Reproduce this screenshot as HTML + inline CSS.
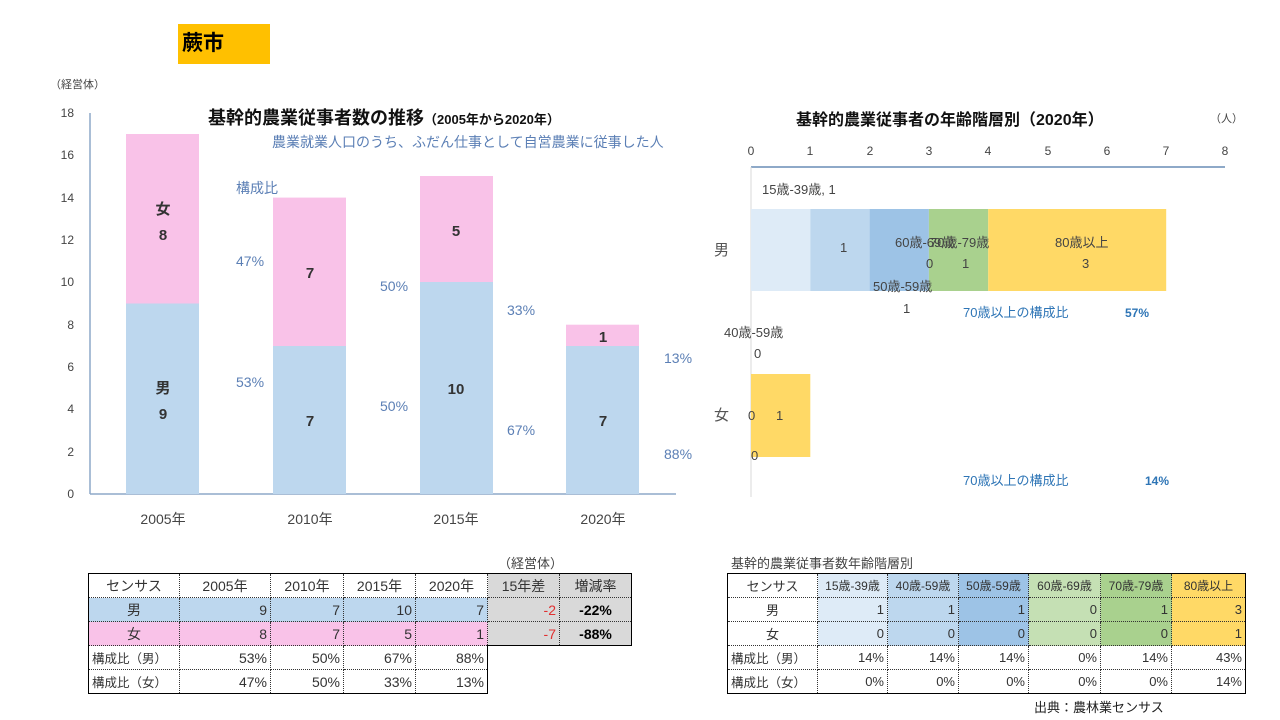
<!DOCTYPE html>
<html><head><meta charset="utf-8"><style>
body{margin:0;width:1280px;height:720px;background:#fff;position:relative;overflow:hidden;font-family:"Liberation Sans","Noto Sans CJK JP",sans-serif;}
.a{position:absolute;white-space:nowrap}
table{position:absolute;border-collapse:collapse;font-size:14px;color:#333;table-layout:fixed}
td{border:1px dotted #333;height:23px;padding:0 3px;text-align:right}
td.c{text-align:center}
td.l{text-align:left;font-size:12.5px}
tr.t td{border-top:1px solid #000;}
</style></head><body>
<div class="a" style="left:178px;top:24px;width:92px;height:40px;background:#ffc000;font-size:21px;font-weight:bold;line-height:40px;padding-left:4px;box-sizing:border-box">蕨市</div>
<div class="a" style="left:50px;top:76px;font-size:11px;color:#444">（経営体）</div>
<div class="a" style="left:208px;top:104px;font-size:18px;font-weight:bold;color:#111">基幹的農業従事者数の推移<span style="font-size:13px">（2005年から2020年）</span></div>
<div class="a" style="left:272px;top:132px;font-size:14px;color:#5b7fb5">農業就業人口のうち、ふだん仕事として自営農業に従事した人</div>
<div class="a" style="left:796px;top:106px;font-size:16px;font-weight:bold;color:#111">基幹的農業従事者の年齢階層別（2020年）</div>
<div class="a" style="left:1210px;top:110px;font-size:11px;color:#444">（人）</div>
<svg class="a" style="left:0;top:0" width="1280" height="720" font-family="Liberation Sans,Noto Sans CJK JP,sans-serif">
<g font-size="12" fill="#444" text-anchor="end">
<text x="74" y="498">0</text><text x="74" y="456">2</text><text x="74" y="413">4</text><text x="74" y="371">6</text><text x="74" y="329">8</text><text x="74" y="286">10</text><text x="74" y="244">12</text><text x="74" y="202">14</text><text x="74" y="159">16</text><text x="74" y="117">18</text>
</g>
<line x1="90" y1="113" x2="90" y2="494" stroke="#8ea9c8" stroke-width="1.5"/>
<line x1="90" y1="494" x2="676" y2="494" stroke="#8ea9c8" stroke-width="1.5"/>
<rect x="126" y="303.5" width="73" height="190.5" fill="#bdd7ee"/><rect x="126" y="134" width="73" height="169.5" fill="#f9c2e8"/>
<rect x="273" y="346" width="73" height="148" fill="#bdd7ee"/><rect x="273" y="197.6" width="73" height="148.4" fill="#f9c2e8"/>
<rect x="420" y="282" width="73" height="212" fill="#bdd7ee"/><rect x="420" y="176" width="73" height="106" fill="#f9c2e8"/>
<rect x="566" y="346" width="73" height="148" fill="#bdd7ee"/><rect x="566" y="324.7" width="73" height="21.3" fill="#f9c2e8"/>
<g font-size="15" font-weight="bold" fill="#333" text-anchor="middle">
<text x="163" y="214">女</text><text x="163" y="240">8</text><text x="163" y="393">男</text><text x="163" y="419">9</text>
<text x="310" y="278">7</text><text x="310" y="426">7</text><text x="456" y="236">5</text><text x="456" y="394">10</text>
<text x="603" y="342">1</text><text x="603" y="426">7</text>
</g>
<g font-size="14" fill="#5b7fb5">
<text x="236" y="193">構成比</text><text x="236" y="266">47%</text><text x="236" y="387">53%</text>
<text x="380" y="291">50%</text><text x="380" y="411">50%</text><text x="507" y="315">33%</text><text x="507" y="435">67%</text>
<text x="664" y="363">13%</text><text x="664" y="459">88%</text>
</g>
<g font-size="14" fill="#444" text-anchor="middle"><text x="163" y="524">2005年</text><text x="310" y="524">2010年</text><text x="456" y="524">2015年</text><text x="603" y="524">2020年</text></g>
<g font-size="12" fill="#444" text-anchor="middle">
<text x="751" y="155">0</text><text x="810" y="155">1</text><text x="870" y="155">2</text><text x="929" y="155">3</text><text x="988" y="155">4</text><text x="1048" y="155">5</text><text x="1107" y="155">6</text><text x="1166" y="155">7</text><text x="1225" y="155">8</text>
</g>
<line x1="751" y1="167" x2="1225" y2="167" stroke="#8ea9c8" stroke-width="2"/>
<line x1="751" y1="167" x2="751" y2="497" stroke="#d9d9d9"/>
<rect x="751" y="209" width="59.3" height="82" fill="#deebf7"/><rect x="810.3" y="209" width="59.3" height="82" fill="#bdd7ee"/><rect x="869.6" y="209" width="59.3" height="82" fill="#9dc3e6"/><rect x="928.9" y="209" width="59.3" height="82" fill="#a9d18e"/><rect x="988.2" y="209" width="178" height="82" fill="#ffd966"/>
<rect x="751" y="374" width="59.3" height="83" fill="#ffd966"/>
<g font-size="13" fill="#444">
<text x="762" y="194">15歳-39歳, 1</text><text x="840" y="252">1</text><text x="895" y="247">60歳-69歳</text><text x="930" y="247">70歳-79歳</text>
<text x="1055" y="247">80歳以上</text><text x="926" y="268">0</text><text x="962" y="268">1</text><text x="1082" y="268">3</text>
<text x="873" y="291">50歳-59歳</text><text x="903" y="313">1</text><text x="724" y="337">40歳-59歳</text><text x="754" y="358">0</text>
<text x="748" y="420">0</text><text x="776" y="420">1</text><text x="751" y="460">0</text>
</g>
<g font-size="15" fill="#555"><text x="714" y="255">男</text><text x="714" y="420">女</text></g>
<g font-size="13" fill="#2e75b6"><text x="963" y="317">70歳以上の構成比</text><text x="963" y="485">70歳以上の構成比</text>
<text x="1125" y="317" font-weight="bold" font-size="12">57%</text><text x="1145" y="485" font-weight="bold" font-size="12">14%</text></g>
</svg>
<div class="a" style="left:498px;top:553px;font-size:13px;color:#444">（経営体）</div>
<table style="left:88px;top:573px;width:544px">
<colgroup><col style="width:91px"><col style="width:91px"><col style="width:73px"><col style="width:72px"><col style="width:72px"><col style="width:72px"><col style="width:72px"></colgroup>
<tr><td class="c" style="border-left:1px solid #000;border-top:1px solid #000">センサス</td><td class="c" style="border-top:1px solid #000">2005年</td><td class="c" style="border-top:1px solid #000">2010年</td><td class="c" style="border-top:1px solid #000">2015年</td><td class="c" style="border-top:1px solid #000">2020年</td><td class="c" style="background:#d9d9d9;border-top:1px solid #000">15年差</td><td class="c" style="background:#d9d9d9;border-top:1px solid #000;border-right:1px solid #000">増減率</td></tr>
<tr style="background:#bdd7ee"><td class="c" style="border-left:1px solid #000">男</td><td>9</td><td>7</td><td>10</td><td>7</td><td style="background:#d9d9d9;color:#e03030">-2</td><td class="c" style="background:#d9d9d9;font-weight:bold;color:#000;border-right:1px solid #000">-22%</td></tr>
<tr style="background:#f9c2e8"><td class="c" style="border-left:1px solid #000">女</td><td>8</td><td>7</td><td>5</td><td>1</td><td style="background:#d9d9d9;color:#e03030;border-bottom:1px solid #000">-7</td><td class="c" style="background:#d9d9d9;font-weight:bold;color:#000;border-right:1px solid #000;border-bottom:1px solid #000">-88%</td></tr>
<tr><td class="l" style="border-left:1px solid #000">構成比（男）</td><td>53%</td><td>50%</td><td>67%</td><td style="border-right:1px solid #000">88%</td><td style="border:none"></td><td style="border:none"></td></tr>
<tr><td class="l" style="border-left:1px solid #000;border-bottom:1px solid #000">構成比（女）</td><td style="border-bottom:1px solid #000">47%</td><td style="border-bottom:1px solid #000">50%</td><td style="border-bottom:1px solid #000">33%</td><td style="border-right:1px solid #000;border-bottom:1px solid #000">13%</td><td style="border:none"></td><td style="border:none"></td></tr>
</table>
<div class="a" style="left:731px;top:553px;font-size:13px;color:#444">基幹的農業従事者数年齢階層別</div>
<table style="left:727px;top:573px;width:518px;font-size:13px">
<colgroup><col style="width:90px"><col style="width:70px"><col style="width:71px"><col style="width:70px"><col style="width:72px"><col style="width:71px"><col style="width:74px"></colgroup>
<tr><td class="c" style="border-left:1px solid #000;border-top:1px solid #000">センサス</td><td class="c" style="background:#deebf7;padding:0;font-size:12px;border-top:1px solid #000">15歳-39歳</td><td class="c" style="background:#bdd7ee;padding:0;font-size:12px;border-top:1px solid #000">40歳-59歳</td><td class="c" style="background:#9dc3e6;padding:0;font-size:12px;border-top:1px solid #000">50歳-59歳</td><td class="c" style="background:#c5e0b4;padding:0;font-size:12px;border-top:1px solid #000">60歳-69歳</td><td class="c" style="background:#a9d18e;padding:0;font-size:12px;border-top:1px solid #000">70歳-79歳</td><td class="c" style="background:#ffd966;padding:0;font-size:12px;border-top:1px solid #000;border-right:1px solid #000">80歳以上</td></tr>
<tr><td class="c" style="border-left:1px solid #000">男</td><td style="background:#deebf7">1</td><td style="background:#bdd7ee">1</td><td style="background:#9dc3e6">1</td><td style="background:#c5e0b4">0</td><td style="background:#a9d18e">1</td><td style="background:#ffd966;border-right:1px solid #000">3</td></tr>
<tr><td class="c" style="border-left:1px solid #000">女</td><td style="background:#deebf7">0</td><td style="background:#bdd7ee">0</td><td style="background:#9dc3e6">0</td><td style="background:#c5e0b4">0</td><td style="background:#a9d18e">0</td><td style="background:#ffd966;border-right:1px solid #000">1</td></tr>
<tr><td class="l" style="border-left:1px solid #000">構成比（男）</td><td>14%</td><td>14%</td><td>14%</td><td>0%</td><td>14%</td><td style="border-right:1px solid #000">43%</td></tr>
<tr><td class="l" style="border-left:1px solid #000;border-bottom:1px solid #000">構成比（女）</td><td style="border-bottom:1px solid #000">0%</td><td style="border-bottom:1px solid #000">0%</td><td style="border-bottom:1px solid #000">0%</td><td style="border-bottom:1px solid #000">0%</td><td style="border-bottom:1px solid #000">0%</td><td style="border-right:1px solid #000;border-bottom:1px solid #000">14%</td></tr>
</table>
<div class="a" style="left:1034px;top:697px;font-size:13px;color:#222">出典：農林業センサス</div>
</body></html>
